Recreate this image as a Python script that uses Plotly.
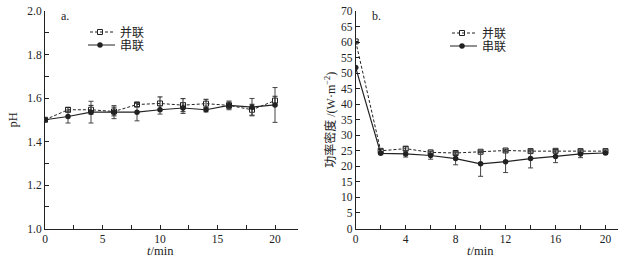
import plotly.graph_objects as go

t = [0, 2, 4, 6, 8, 10, 12, 14, 16, 18, 20]

ph_parallel = [1.50, 1.546, 1.546, 1.538, 1.570, 1.575, 1.567, 1.574, 1.566, 1.546, 1.588]
ph_parallel_err = [0.0, 0.01, 0.02, 0.02, 0.01, 0.03, 0.03, 0.02, 0.015, 0.025, 0.02]
ph_series = [1.50, 1.515, 1.535, 1.535, 1.535, 1.546, 1.554, 1.546, 1.566, 1.558, 1.568]
ph_series_err = [0.0, 0.03, 0.05, 0.03, 0.04, 0.02, 0.025, 0.01, 0.02, 0.04, 0.08]

pd_parallel = [60.2, 25.0, 25.7, 24.5, 24.3, 24.7, 25.1, 24.9, 25.0, 24.9, 24.9]
pd_parallel_err = [0.0, 0.5, 0.6, 0.4, 0.4, 0.3, 0.4, 0.3, 0.4, 0.4, 0.4]
pd_series = [51.8, 24.2, 24.0, 23.5, 22.5, 20.8, 21.5, 22.5, 23.2, 24.0, 24.3]
pd_series_err = [0.0, 0.4, 1.0, 1.2, 2.0, 4.0, 3.5, 3.0, 2.0, 1.2, 0.5]

name_par = "并联"
name_ser = "串联"

FONT = "Liberation Serif, Times New Roman, Noto Sans CJK SC, serif"
INK = "#222222"

W, H = 635, 267


def fx(x):
    return x / W


def fy(y):
    return (H - y) / H


fig = go.Figure()


def add_pair(xa, ya, yp, ep, ys, es, lg_a, lg_b):
    fig.add_trace(go.Scatter(
        x=t, y=yp, name=name_par, xaxis=xa, yaxis=ya, mode="lines+markers",
        line=dict(color=INK, width=1, dash="3px,2px"),
        marker=dict(symbol="square-open", size=5, color=INK, line=dict(width=1)),
        error_y=dict(type="data", array=ep, color=INK, thickness=1, width=2.5),
        legend=lg_a, showlegend=True))
    fig.add_trace(go.Scatter(
        x=t, y=ys, name=name_ser, xaxis=xa, yaxis=ya, mode="lines+markers",
        line=dict(color=INK, width=1.2),
        marker=dict(symbol="circle", size=5.5, color=INK),
        error_y=dict(type="data", array=es, color="#444444", thickness=1, width=2.5),
        legend=lg_b, showlegend=True))


add_pair("x", "y", ph_parallel, ph_parallel_err, ph_series, ph_series_err, "legend", "legend2")
add_pair("x2", "y2", pd_parallel, pd_parallel_err, pd_series, pd_series_err, "legend3", "legend4")

ydom = [fy(228.5), fy(11)]
axis_common = dict(showline=True, linecolor=INK, linewidth=1, ticks="inside",
                   ticklen=4, tickcolor=INK, showgrid=False, zeroline=False,
                   automargin=False,
                   tickfont=dict(family=FONT, size=11.5, color=INK))


def leg(x, y):
    return dict(x=fx(x), y=fy(y), xanchor="left", yanchor="middle", visible=True,
                bgcolor="rgba(0,0,0,0)", font=dict(family=FONT, size=12, color=INK),
                itemwidth=30, tracegroupgap=0, indentation=-8)


fig.update_layout(
    width=W, height=H, margin=dict(l=0, r=0, t=0, b=0),
    paper_bgcolor="white", plot_bgcolor="white", showlegend=True,
    font=dict(family=FONT, color=INK, size=12),
    xaxis=dict(domain=[fx(45), fx(298)], range=[0, 22], tickvals=[0, 5, 10, 15, 20],
               minor=dict(ticks="inside", ticklen=4, tickcolor=INK, tickvals=[2.5, 7.5, 12.5, 17.5]),
               anchor="y", **axis_common),
    yaxis=dict(domain=ydom, range=[1.0, 2.0], tickvals=[1.0, 1.2, 1.4, 1.6, 1.8, 2.0],
               ticktext=["1.0", "1.2", "1.4", "1.6", "1.8", "2.0"],
               minor=dict(ticks="inside", ticklen=4, tickcolor=INK, tickvals=[1.1, 1.3, 1.5, 1.7, 1.9]),
               title=dict(text="pH", standoff=6, font=dict(family=FONT, size=12.5)),
               anchor="x", **axis_common),
    xaxis2=dict(domain=[fx(355.7), fx(618)], range=[0, 21], tickvals=[0, 4, 8, 12, 16, 20],
                minor=dict(ticks="inside", ticklen=4, tickcolor=INK, tickvals=[2, 6, 10, 14, 18]),
                anchor="y2", **axis_common),
    yaxis2=dict(domain=ydom, range=[0, 70], dtick=5,
                title=dict(text="功率密度 /(W·m<sup>−2</sup>)", standoff=2, font=dict(family=FONT, size=12)),
                anchor="x2", **axis_common),
    legend=leg(88, 32),
    legend2=leg(88, 45),
    legend3=leg(450, 33),
    legend4=leg(450, 46),
    annotations=[
        dict(text="a.", x=0.055, y=1.02, xref="x domain", yref="y domain", showarrow=False,
             xanchor="left", yanchor="top", font=dict(family=FONT, size=12, color=INK)),
        dict(text="b.", x=0.055, y=1.02, xref="x2 domain", yref="y2 domain", showarrow=False,
             xanchor="left", yanchor="top", font=dict(family=FONT, size=12, color=INK)),
        dict(text="<i>t</i>/min", x=10, y=fy(251), xref="x", yref="paper", showarrow=False,
             xanchor="center", yanchor="middle", font=dict(family=FONT, size=12.5, color=INK)),
        dict(text="<i>t</i>/min", x=10, y=fy(251), xref="x2", yref="paper", showarrow=False,
             xanchor="center", yanchor="middle", font=dict(family=FONT, size=12.5, color=INK)),
    ],
)

fig.write_html("out.html", config={"displayModeBar": False},
               post_script="document.body.style.margin='0';")
